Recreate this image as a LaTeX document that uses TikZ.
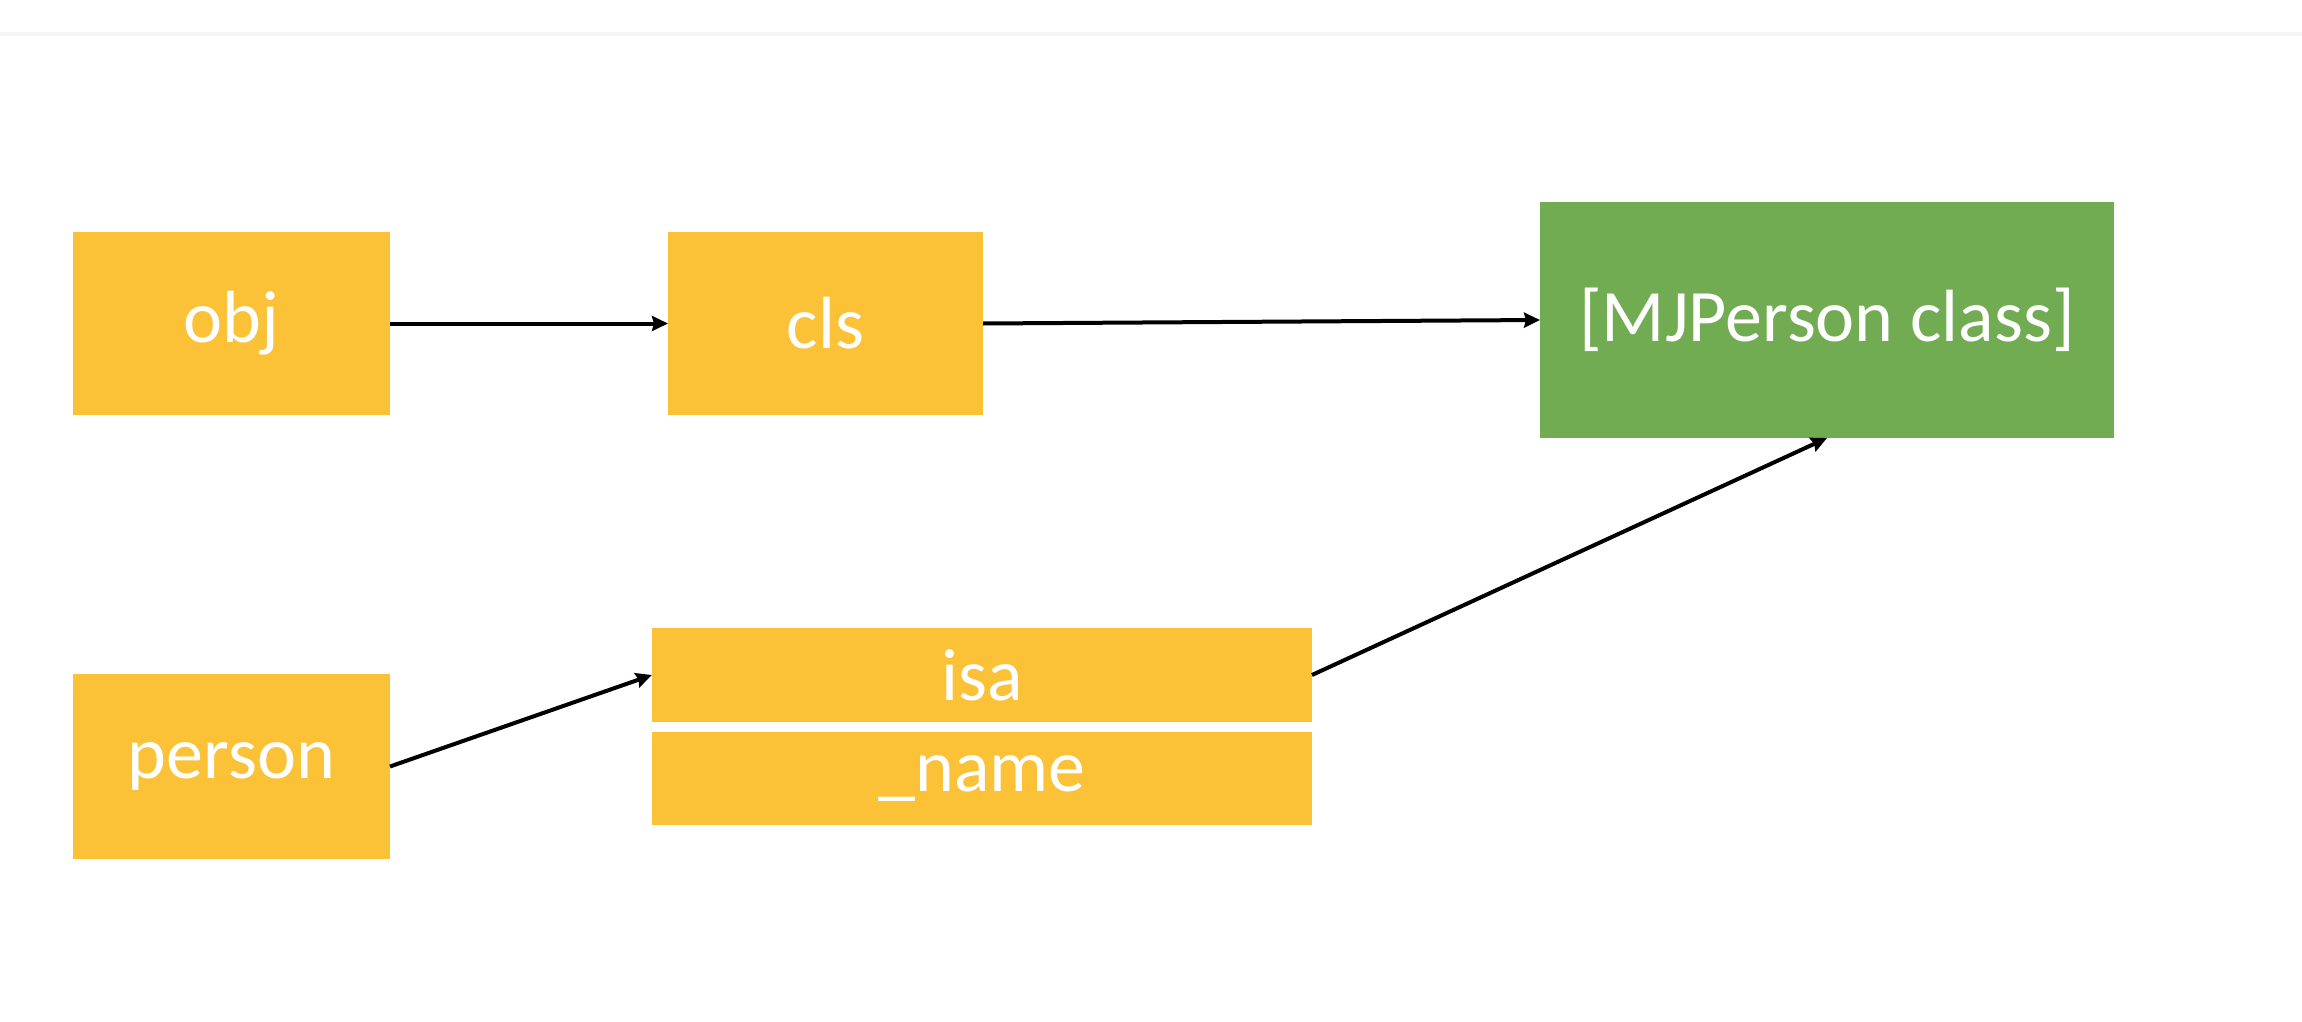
\documentclass[tikz,border=0pt]{standalone}
\usepackage{fontspec}
\setmainfont{Carlito}
\usetikzlibrary{arrows.meta}
\definecolor{boxyellow}{HTML}{FBC137}
\definecolor{boxgreen}{HTML}{72AC52}
\definecolor{rulegray}{HTML}{F5F5F5}
\tikzset{
  cell/.style={rectangle, inner sep=0pt, outer sep=0pt, text=white,
    font=\fontsize{37}{44}\selectfont},
  ybox/.style={cell, fill=boxyellow},
  gbox/.style={cell, fill=boxgreen},
  arr/.style={draw=black, line width=2pt, -{Stealth[length=8pt, width=7.5pt, inset=1pt]}},
}
\begin{document}
\begin{tikzpicture}[x=0.5pt, y=-0.5pt]
\useasboundingbox (0,0) rectangle (2302,1022);
\fill[rulegray] (0,32) rectangle (2302,36);
\node[ybox, minimum width=158.5pt, minimum height=91.5pt] (obj) at (231.5,323.5) {obj};
\node[ybox, minimum width=157.5pt, minimum height=91.5pt] (cls) at (825.5,323.5) {cls};
\node[gbox, minimum width=287pt, minimum height=118pt] (mjp) at (1827,320) {[MJPerson class]};
\node[ybox, minimum width=158.5pt, minimum height=92.5pt] (person) at (231.5,766.5) {person};
\node[ybox, minimum width=330pt, minimum height=47pt] (isa) at (982,675) {isa};
\node[ybox, minimum width=330pt, minimum height=46.5pt] (name) at (982,778.5) {\_name};
\draw[arr] (obj.east) -- (cls.west);
\draw[arr] (cls.east) -- (mjp.west);
\draw[arr] (person.east) -- (isa.west);
\draw[arr] (isa.east) -- (mjp.south);
\end{tikzpicture}
\end{document}
